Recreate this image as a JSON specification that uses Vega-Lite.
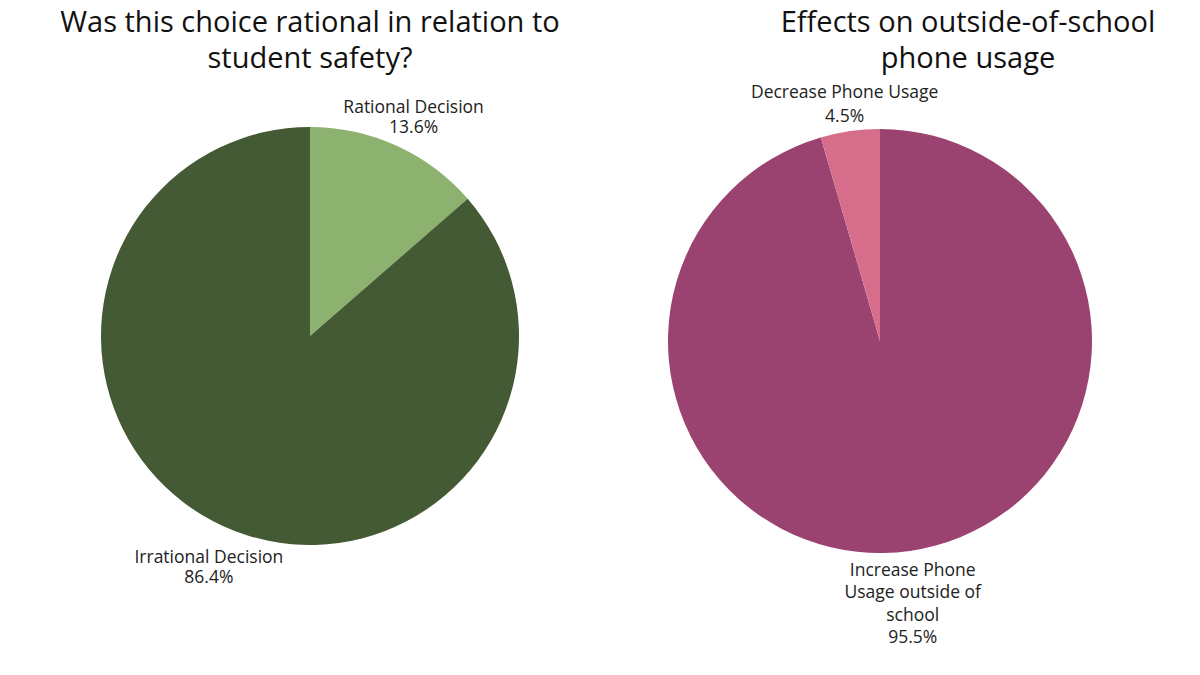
{
  "$schema": "https://vega.github.io/schema/vega-lite/v6.json",
  "padding": {"top": 9, "left": 0, "right": 0, "bottom": 0},
  "background": "white",
  "spacing": 0,
  "resolve": {"scale": {"color": "independent", "theta": "independent", "radius": "independent"}},
  "config": {
    "view": {"stroke": null},
    "font": "Open Sans",
    "title": {"fontSize": 29, "fontWeight": "normal", "color": "#111", "lineHeight": 36, "anchor": "middle", "offset": 9, "frame": "group"}
  },
  "hconcat": [
    {
      "width": 620,
      "height": 506,
      "title": {"text": ["Was this choice rational in relation to", "student safety?"]},
      "data": {"values": [
        {"category": "Rational Decision", "pct": 13.6, "order": 1, "label": ["Rational Decision", "13.6%"]},
        {"category": "Irrational Decision", "pct": 86.4, "order": 2, "label": ["Irrational Decision", "86.4%"]}
      ]},
      "encoding": {
        "theta": {"field": "pct", "type": "quantitative", "stack": true},
        "order": {"field": "order", "type": "quantitative"}
      },
      "layer": [
        {
          "mark": {"type": "arc", "outerRadius": 209},
          "encoding": {
            "color": {"field": "category", "type": "nominal", "legend": null,
              "scale": {"domain": ["Rational Decision", "Irrational Decision"], "range": ["#8DB16E", "#445A34"]}}
          }
        },
        {
          "mark": {"type": "text", "fontSize": 17.5, "color": "#222", "lineHeight": 20, "baseline": "middle", "align": "center"},
          "encoding": {
            "text": {"condition": {"test": "datum.category === 'Rational Decision'", "field": "label"}, "value": ""},
            "radius": {"value": 250}
          }
        },
        {
          "mark": {"type": "text", "fontSize": 17.5, "color": "#222", "lineHeight": 20, "baseline": "middle", "align": "center"},
          "encoding": {
            "text": {"condition": {"test": "datum.category === 'Irrational Decision'", "field": "label"}, "value": ""},
            "radius": {"value": 244}
          }
        }
      ]
    },
    {
      "width": 520,
      "height": 516,
      "title": {"text": ["Effects on outside-of-school", "phone usage"], "dx": 88},
      "data": {"values": [
        {"category": "Increase Phone Usage outside of school", "pct": 95.5, "order": 1, "label": ["Increase Phone", "Usage outside of", "school", "95.5%"]},
        {"category": "Decrease Phone Usage", "pct": 4.5, "order": 2, "label": ["Decrease Phone Usage", "4.5%"]}
      ]},
      "encoding": {
        "theta": {"field": "pct", "type": "quantitative", "stack": true},
        "order": {"field": "order", "type": "quantitative"}
      },
      "layer": [
        {
          "mark": {"type": "arc", "outerRadius": 212},
          "encoding": {
            "color": {"field": "category", "type": "nominal", "legend": null,
              "scale": {"domain": ["Increase Phone Usage outside of school", "Decrease Phone Usage"], "range": ["#9B4370", "#D66E8B"]}}
          }
        },
        {
          "mark": {"type": "text", "fontSize": 17.5, "color": "#222", "lineHeight": 24, "baseline": "middle", "align": "center"},
          "encoding": {
            "text": {"condition": {"test": "datum.category === 'Decrease Phone Usage'", "field": "label"}, "value": ""},
            "radius": {"value": 251}
          }
        },
        {
          "mark": {"type": "text", "fontSize": 17.5, "color": "#222", "lineHeight": 22.5, "baseline": "middle", "align": "center"},
          "encoding": {
            "text": {"condition": {"test": "datum.category === 'Increase Phone Usage outside of school'", "field": "label"}, "value": ""},
            "radius": {"value": 232}
          }
        }
      ]
    }
  ]
}
